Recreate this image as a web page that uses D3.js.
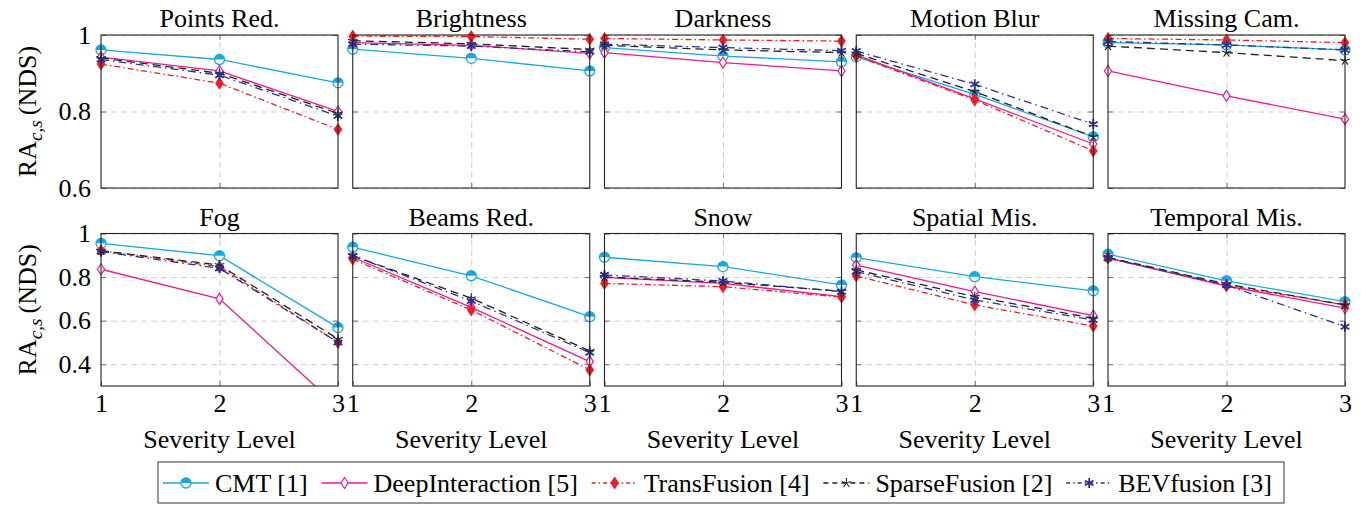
<!DOCTYPE html>
<html>
<head>
<meta charset="utf-8">
<script src="https://cdn.jsdelivr.net/npm/d3@7"></script>
<style>
body { margin: 0; background: #fff; }
.grid line { stroke: #cfcfcf; stroke-dasharray: 6,4; }
.ticks line { stroke: #777; }
</style>
</head>
<body>
<div id="chart"></div>
<script>
// corruption names (one panel each) and severity levels
var corruptions = ["Points Red.", "Brightness", "Darkness", "Motion Blur", "Missing Cam.",
                   "Fog", "Beams Red.", "Snow", "Spatial Mis.", "Temporal Mis."];
var levels = [1, 2, 3];

// RA values per corruption, levels 1..3
var cmt = [[0.961, 0.936, 0.875], [0.963, 0.939, 0.906], [0.967, 0.945, 0.930], [0.943, 0.845, 0.734], [0.980, 0.974, 0.961],
           [0.955, 0.898, 0.568], [0.937, 0.806, 0.618], [0.891, 0.848, 0.764], [0.889, 0.802, 0.737], [0.905, 0.783, 0.687]];
var deepInteraction = [[0.942, 0.906, 0.800], [0.980, 0.973, 0.952], [0.954, 0.928, 0.906], [0.948, 0.833, 0.715], [0.906, 0.841, 0.780],
           [0.836, 0.700, 0.204], [0.891, 0.661, 0.412], [0.799, 0.771, 0.710], [0.855, 0.733, 0.623], [0.887, 0.759, 0.657]];
var transFusion = [[0.924, 0.874, 0.753], [0.997, 0.996, 0.989], [0.991, 0.987, 0.984], [0.945, 0.830, 0.697], [0.991, 0.987, 0.980],
           [0.921, 0.848, 0.500], [0.882, 0.649, 0.374], [0.771, 0.756, 0.708], [0.805, 0.672, 0.575], [0.890, 0.763, 0.672]];
var sparseFusion = [[0.940, 0.900, 0.795], [0.985, 0.977, 0.962], [0.973, 0.961, 0.954], [0.952, 0.852, 0.734], [0.971, 0.954, 0.933],
           [0.921, 0.855, 0.516], [0.898, 0.703, 0.461], [0.800, 0.776, 0.735], [0.833, 0.710, 0.611], [0.890, 0.768, 0.672]];
var bevFusion = [[0.936, 0.895, 0.788], [0.976, 0.971, 0.956], [0.976, 0.967, 0.959], [0.958, 0.871, 0.767], [0.983, 0.974, 0.961],
           [0.917, 0.840, 0.500], [0.898, 0.690, 0.453], [0.810, 0.782, 0.733], [0.825, 0.695, 0.603], [0.887, 0.763, 0.572]];

var topTicks = [0.6, 0.8, 1];
var bottomTicks = [0.4, 0.6, 0.8, 1];

var methods = [
  { name: "CMT [1]", values: cmt, color: "#1ba8e2", dash: null, marker: "halfcircle" },
  { name: "DeepInteraction [5]", values: deepInteraction, color: "#ec1a8e", dash: null, marker: "diamond" },
  { name: "TransFusion [4]", values: transFusion, color: "#ee1c25", dash: "6,3,1.5,3", marker: "diamondfill" },
  { name: "SparseFusion [2]", values: sparseFusion, color: "#222222", dash: "8,5", marker: "star" },
  { name: "BEVfusion [3]", values: bevFusion, color: "#2e3192", dash: "8,4,1.5,4", marker: "asterisk" }
];

var serif = "'Liberation Serif', 'DejaVu Serif', serif";
var svgWidth = 1367;
var svgHeight = 505;
var panelW = 237;
var panelStep = 251.75;
var left0 = 101;
var rows = [
  { top: 35, bottom: 188, domain: [0.6, 1], ticks: topTicks },
  { top: 233.5, bottom: 386, domain: [0.3, 1], ticks: bottomTicks }
];

var svg = d3.select("#chart").append("svg")
  .attr("width", svgWidth)
  .attr("height", svgHeight)
  .style("font-family", serif);

var defs = svg.append("defs");

function drawMarker(g, type, color) {
  var r = 5;
  if (type === "halfcircle") {
    g.append("circle").attr("r", r).attr("fill", "#fff").attr("stroke", color).attr("stroke-width", 1.3);
    g.append("path").attr("d", `M${-r},0A${r},${r} 0 0 1 ${r},0Z`).attr("fill", color);
  } else if (type === "diamond" || type === "diamondfill") {
    g.append("path").attr("d", "M0,-5.5L3.6,0L0,5.5L-3.6,0Z")
      .attr("fill", type === "diamond" ? "#fff" : color)
      .attr("stroke", color).attr("stroke-width", 1.2);
  } else if (type === "star") {
    var d = "";
    for (var k = 0; k < 5; k++) {
      var a = -Math.PI / 2 + k * 2 * Math.PI / 5;
      d += `M0,0L${(r * Math.cos(a)).toFixed(2)},${(r * Math.sin(a)).toFixed(2)}`;
    }
    g.append("path").attr("d", d).attr("stroke", color).attr("stroke-width", 1.1).attr("fill", "none");
  } else if (type === "asterisk") {
    var d2 = "";
    for (var j = 0; j < 6; j++) {
      var b = -Math.PI / 2 + j * Math.PI / 3;
      d2 += `M0,0L${(r * Math.cos(b)).toFixed(2)},${(r * Math.sin(b)).toFixed(2)}`;
    }
    g.append("path").attr("d", d2).attr("stroke", color).attr("stroke-width", 1.8).attr("fill", "none");
  }
}

function serifText(sel, size) {
  return sel.style("font-family", serif).style("font-size", size + "px").attr("fill", "#000");
}

corruptions.forEach(function(title, i) {
  var row = rows[Math.floor(i / 5)];
  var col = i % 5;
  var x0 = left0 + col * panelStep;

  var x = d3.scaleLinear().domain([1, 3]).range([x0, x0 + panelW]);
  var y = d3.scaleLinear().domain(row.domain).range([row.bottom, row.top]);

  var panel = svg.append("g");

  // grid lines
  panel.append("g").attr("class", "grid")
    .attr("transform", `translate(${x0},0)`)
    .call(d3.axisLeft(y).tickValues(row.ticks).tickSize(-panelW).tickFormat(""))
    .call(g => g.select(".domain").remove());
  panel.append("g").attr("class", "grid")
    .attr("transform", `translate(0,${row.bottom})`)
    .call(d3.axisBottom(x).tickValues([2]).tickSize(-(row.bottom - row.top)).tickFormat(""))
    .call(g => g.select(".domain").remove());

  // inner ticks
  var leftAxis = d3.axisLeft(y).tickValues(row.ticks).tickSize(-5).tickPadding(10)
    .tickFormat(col === 0 ? (d => d === 1 ? "1" : d.toFixed(1)) : "");
  panel.append("g").attr("class", "ticks")
    .attr("transform", `translate(${x0},0)`)
    .call(leftAxis)
    .call(g => g.select(".domain").remove())
    .call(g => serifText(g.selectAll("text"), 26));
  panel.append("g").attr("class", "ticks")
    .attr("transform", `translate(${x0 + panelW},0)`)
    .call(d3.axisRight(y).tickValues(row.ticks).tickSize(-5).tickFormat(""))
    .call(g => g.select(".domain").remove());
  panel.append("g").attr("class", "ticks")
    .attr("transform", `translate(0,${row.top})`)
    .call(d3.axisTop(x).tickValues([2]).tickSize(-5).tickFormat(""))
    .call(g => g.select(".domain").remove());
  var bottomAxis = d3.axisBottom(x).tickValues(row === rows[1] ? levels : [2]).tickSize(-5).tickPadding(8)
    .tickFormat(row === rows[1] ? d3.format("d") : "");
  panel.append("g").attr("class", "ticks")
    .attr("transform", `translate(0,${row.bottom})`)
    .call(bottomAxis)
    .call(g => g.select(".domain").remove())
    .call(g => serifText(g.selectAll("text"), 26));

  // clip for lines
  var clipId = "clip" + i;
  defs.append("clipPath").attr("id", clipId)
    .append("rect").attr("x", x0).attr("y", row.top).attr("width", panelW).attr("height", row.bottom - row.top);

  var line = d3.line()
    .x((d, k) => x(levels[k]))
    .y(d => y(d));

  methods.forEach(function(m) {
    var vals = m.values[i];
    panel.append("path")
      .attr("d", line(vals))
      .attr("clip-path", `url(#${clipId})`)
      .attr("fill", "none")
      .attr("stroke", m.color)
      .attr("stroke-width", 1.3)
      .attr("stroke-dasharray", m.dash);
    vals.forEach(function(v, k) {
      if (v < row.domain[0] || v > row.domain[1]) return;
      var mg = panel.append("g").attr("transform", `translate(${x(levels[k])},${y(v)})`);
      drawMarker(mg, m.marker, m.color);
    });
  });

  // panel frame
  panel.append("rect")
    .attr("x", x0).attr("y", row.top)
    .attr("width", panelW).attr("height", row.bottom - row.top)
    .attr("fill", "none").attr("stroke", "#222").attr("stroke-width", 1.1);

  // title
  serifText(panel.append("text"), 26)
    .attr("x", x0 + panelW / 2).attr("y", row.top - 8)
    .attr("text-anchor", "middle")
    .text(title);

  // x axis label on bottom row
  if (row === rows[1]) {
    serifText(panel.append("text"), 26)
      .attr("x", x0 + panelW / 2).attr("y", 448)
      .attr("text-anchor", "middle")
      .text("Severity Level");
  }
});

// y axis labels
rows.forEach(function(row) {
  var t = serifText(svg.append("text"), 26)
    .attr("transform", `translate(36,${(row.top + row.bottom) / 2}) rotate(-90)`)
    .attr("text-anchor", "middle");
  t.append("tspan").text("RA");
  t.append("tspan").attr("font-style", "italic").attr("dy", 6).style("font-size", "19px").text("c,s");
  t.append("tspan").attr("dy", -6).text("\u2009(NDS)");
});

// legend
var legend = svg.append("g");
var boxLeft = 158, boxTop = 462, boxRight = 1284, boxBottom = 503;
legend.append("rect")
  .attr("x", boxLeft).attr("y", boxTop)
  .attr("width", boxRight - boxLeft).attr("height", boxBottom - boxTop)
  .attr("fill", "#fff").attr("stroke", "#333").attr("stroke-width", 1);

var sampleW = 46, gapIn = 6, padL = 5, padR = 12;
var items = methods.map(function(m) {
  var g = legend.append("g");
  var txt = serifText(g.append("text"), 26).attr("y", 492).text(m.name);
  return { m: m, g: g, txt: txt, w: txt.node().getComputedTextLength() };
});
var usedW = d3.sum(items, d => d.w + sampleW + gapIn);
var gapOut = (boxRight - boxLeft - padL - padR - usedW) / (items.length - 1);
var cx = boxLeft + padL;
items.forEach(function(it) {
  var ly = 483;
  it.g.append("line")
    .attr("x1", cx).attr("x2", cx + sampleW).attr("y1", ly).attr("y2", ly)
    .attr("stroke", it.m.color).attr("stroke-width", 1.3)
    .attr("stroke-dasharray", it.m.dash ? (it.m.dash === "8,5" ? "5,4" : "4,3,1.5,3") : null);
  drawMarker(it.g.append("g").attr("transform", `translate(${cx + sampleW / 2},${ly})`), it.m.marker, it.m.color);
  it.txt.attr("x", cx + sampleW + gapIn);
  cx += sampleW + gapIn + it.w + gapOut;
});
</script>
</body>
</html>
